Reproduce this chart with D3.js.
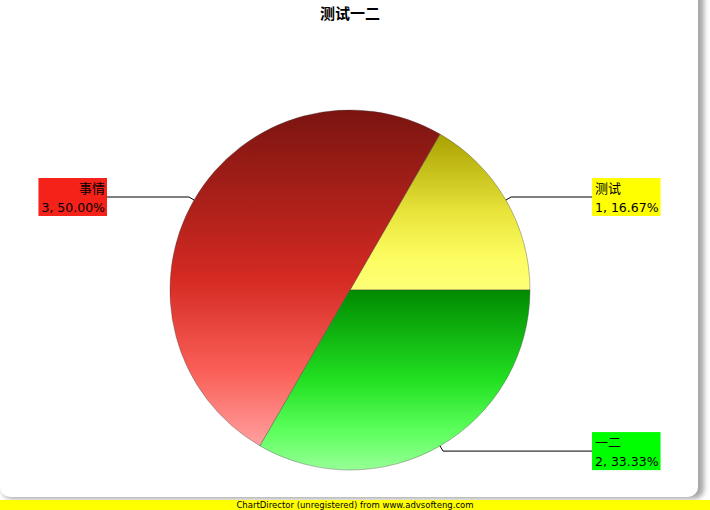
<!DOCTYPE html>
<html>
<head>
<meta charset="utf-8">
<script src="https://cdn.jsdelivr.net/npm/d3@7"></script>
<style>
  body { margin: 0; background: #fff; }
  svg { display: block; }
</style>
</head>
<body>
<div id="chart"></div>
<script>
// Data
var labels = ["测试", "事情", "一二"]
var values = [1, 3, 2]
var colors = ["#ffff00", "#f42219", "#00ff00"]
var gradTop = ["#a8a000", "#7a1410", "#008a00"]
var gradMid = ["#e8e43a", "#d42a22", "#22e022"]
var gradLow = ["#fcfc60", "#fa6058", "#5cff5c"]
var gradBottom = ["#ffff78", "#ffa0a0", "#96ff96"]

var W = 710, H = 510
var cx = 350, cy = 290, radius = 180

var svg = d3.select("#chart")
    .append("svg")
    .attr("width", W)
    .attr("height", H)

var defs = svg.append("defs")

// Drop shadow for the card
var filt = defs.append("filter").attr("id", "blur")
    .attr("x", "-5%").attr("y", "-5%").attr("width", "110%").attr("height", "110%")
filt.append("feGaussianBlur").attr("stdDeviation", 2.5)

svg.append("rect")
    .attr("x", 2).attr("y", -20)
    .attr("width", 702).attr("height", 519)
    .attr("rx", 10)
    .attr("fill", "#a8a8a8")
    .attr("filter", "url(#blur)")

svg.append("rect")
    .attr("x", 0).attr("y", -20)
    .attr("width", 698).attr("height", 517)
    .attr("rx", 10)
    .attr("fill", "#fff")

// Bottom yellow strip
svg.append("rect")
    .attr("x", 0).attr("y", 500)
    .attr("width", W).attr("height", 10)
    .attr("fill", "#ffff00")

svg.append("text")
    .attr("x", 355).attr("y", 508)
    .attr("text-anchor", "middle")
    .style("font-family", "DejaVu Sans, sans-serif")
    .style("font-size", "8.5px")
    .attr("fill", "#000")
    .text("ChartDirector (unregistered) from www.advsofteng.com")

// Title
svg.append("text")
    .attr("x", 350).attr("y", 19)
    .attr("text-anchor", "middle")
    .style("font-family", "'Noto Sans CJK SC', sans-serif")
    .style("font-size", "15px")
    .style("font-weight", "bold")
    .text("测试一二")

// Gradients, one per slice
labels.forEach(function (l, i) {
    var g = defs.append("linearGradient")
        .attr("id", "grad" + i)
        .attr("x1", 0).attr("y1", 0).attr("x2", 0).attr("y2", 1)
    g.append("stop").attr("offset", "0%").attr("stop-color", gradTop[i])
    g.append("stop").attr("offset", "50%").attr("stop-color", gradMid[i])
    g.append("stop").attr("offset", "78%").attr("stop-color", gradLow[i])
    g.append("stop").attr("offset", "100%").attr("stop-color", gradBottom[i])
})

// Pie, counter-clockwise from 3 o'clock
var pie = d3.pie()
    .sort(null)
    .startAngle(Math.PI / 2)
    .endAngle(Math.PI / 2 - 2 * Math.PI)
    .value(d => d)

var arcs = pie(values)

var arc = d3.arc().innerRadius(0).outerRadius(radius)

var canvas = svg.append("g")
    .attr("transform", "translate(" + cx + "," + cy + ")")

canvas.selectAll("NONE")
    .data(arcs)
    .enter()
    .append("path")
    .attr("d", arc)
    .attr("fill", (d, i) => "url(#grad" + i + ")")
    .attr("stroke", "rgba(60,60,60,0.45)")
    .attr("stroke-width", 0.8)

// Labels
var total = d3.sum(values)
var boxLeftRight = 107, boxRightLeft = 592

arcs.forEach(function (d, i) {
    var mid = (d.startAngle + d.endAngle) / 2
    var ex = Math.sin(mid) * radius, ey = -Math.cos(mid) * radius
    var kx = Math.sin(mid) * (radius + 6), ky = -Math.cos(mid) * (radius + 6)
    var right = ex > 0
    var bx = right ? boxRightLeft - cx : boxLeftRight - cx

    canvas.append("polyline")
        .attr("points", [[ex, ey], [kx, ky], [bx, ky]].map(p => p.join(",")).join(" "))
        .attr("fill", "none")
        .attr("stroke", "#000")
        .attr("stroke-width", 1)

    var lg = canvas.append("g")
    var box = lg.append("rect")
    var t1 = lg.append("text")
        .style("font-family", "'Noto Sans CJK SC', sans-serif")
        .style("font-size", "13px")
        .text(labels[i])
    var t2 = lg.append("text")
        .style("font-family", "DejaVu Sans, sans-serif")
        .style("font-size", "12.5px")
        .text(values[i] + ", " + (values[i] / total * 100).toFixed(2) + "%")

    var w = Math.max(t1.node().getComputedTextLength(), t2.node().getComputedTextLength()) + 5
    var h = 38
    var x0 = right ? bx : bx - w
    var y0 = ky - h / 2
    box.attr("x", x0).attr("y", y0).attr("width", w).attr("height", h)
        .attr("fill", colors[i])
    if (right) {
        t1.attr("x", x0 + 3).attr("y", y0 + 15)
        t2.attr("x", x0 + 3).attr("y", y0 + 34)
    } else {
        t1.attr("x", x0 + w - 2).attr("y", y0 + 15).attr("text-anchor", "end")
        t2.attr("x", x0 + w - 2).attr("y", y0 + 34).attr("text-anchor", "end")
    }
})
</script>
</body>
</html>
